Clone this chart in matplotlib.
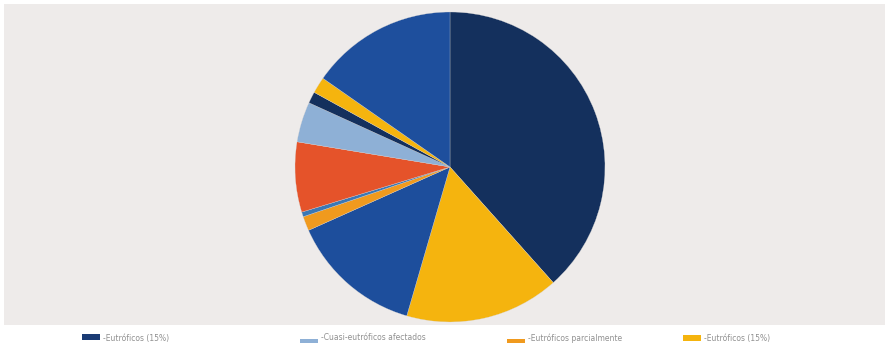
import matplotlib
matplotlib.use("Agg")
import matplotlib.pyplot as plt
from matplotlib.patches import Rectangle

# Share of each category (percent), clockwise from 12 o'clock
segment_names = [
    "Eutróficos", "Eutróficos (15%)", "Cuasi-eutróficos", "Eutróficos parcialmente",
    "Otros", "Hipereutróficos", "Cuasi-eutróficos afectados", "Oligotróficos",
    "Mesotróficos", "Cuasi-eutróficos",
]
segment_values = [38.4, 16.1, 13.8, 1.5, 0.5, 7.3, 4.2, 1.2, 1.7, 15.3]
segment_colors = [
    "#14305d", "#f5b40e", "#1d4e9c", "#f09a1e", "#3b78b5",
    "#e5532a", "#8eb0d6", "#14305d", "#f5b40e", "#1e4f9d",
]

legend_labels = [
    "-Eutróficos (15%)",
    "-Cuasi-eutróficos afectados",
    "-Eutróficos parcialmente",
    "-Eutróficos (15%)",
]
legend_colors = ["#1a3b74", "#8eb0d6", "#f09a1e", "#f5b40e"]

W, H = 890, 348
fig = plt.figure(figsize=(W / 100, H / 100), dpi=100)
fig.patch.set_facecolor("white")

# light grey panel behind the pie
fig.add_artist(Rectangle((4 / W, 23 / H), 881 / W, 321 / H,
                         transform=fig.transFigure, facecolor="#eeebea",
                         edgecolor="none", zorder=0))

cx, cy, r = 450, 167, 155
ax = fig.add_axes([(cx - r) / W, (H - cy - r) / H, 2 * r / W, 2 * r / H])
ax.set_facecolor("none")
ax.pie(segment_values, colors=segment_colors, startangle=90, counterclock=False,
       radius=1.0, wedgeprops=dict(linewidth=0.2, edgecolor="#d9d6d4"))
ax.set_xlim(-1.0, 1.0)
ax.set_ylim(-1.0, 1.0)
ax.set_aspect("equal")
ax.axis("off")

# legend row under the panel
legend_x = [82, 300, 507, 683]
legend_h = [6, 4, 4, 6]
legend_y = [337, 341, 341, 338]
for x, y, h, lab, col in zip(legend_x, legend_y, legend_h, legend_labels, legend_colors):
    fig.add_artist(Rectangle((x / W, (H - y - h / 2) / H), 18 / W, h / H,
                             transform=fig.transFigure, facecolor=col,
                             edgecolor="none"))
    fig.text((x + 21) / W, (H - 338) / H, lab, fontsize=5.5, color="#909090",
             va="center", ha="left")

fig.savefig("out.png", dpi=100)
